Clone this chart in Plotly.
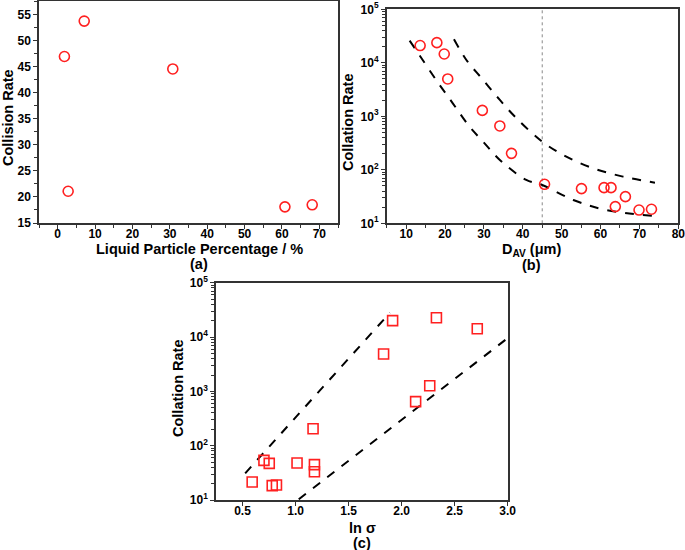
import plotly.graph_objects as go

# ---- Panel (a) data ----
liquid_pct = [1.8, 7.1, 2.8, 30.8, 60.8, 68.1]
collision_rate_a = [47.0, 53.8, 21.1, 44.6, 18.1, 18.5]

# ---- Panel (b) data ----
d_av = [13.6, 17.9, 19.8, 20.7, 29.6, 34.1, 37.1, 45.6, 55.1, 60.9, 62.7, 66.4, 63.8, 69.9, 73.1]
collation_rate_b = [21000, 23800, 14600, 4990, 1290, 660, 203, 53.6, 44.5, 46.4, 46.4, 31.5, 20.5, 17.7, 18.3]

# dashed envelope curves in (b)
lower_b_x = [10.9, 13.4, 17.7, 22.0, 26.3, 29.8, 34.1, 40.9, 45.0, 53.0, 61.5, 74.0]
lower_b_y = [26000, 14000, 4780, 1750, 641, 336, 153, 64.6, 52.0, 27.3, 17.7, 13.7]
upper_b_x = [22.3, 25.5, 29.8, 34.1, 38.4, 45.0, 51.2, 58.1, 65.8, 74.0]
upper_b_y = [27500, 11300, 4780, 2020, 918, 336, 176, 107, 74.5, 57.5]
ref_line_x = [45, 45]
ref_line_y = [10, 100000]

# ---- Panel (c) data ----
ln_sigma = [0.591, 0.702, 0.752, 0.78, 0.82, 1.014, 1.165, 1.178, 1.178, 1.83, 1.915, 2.132, 2.265, 2.328, 2.713]
collation_rate_c = [21.4, 53.7, 47.3, 18.4, 18.9, 48, 205, 44.7, 33.2, 4870, 20000, 646, 1270, 22700, 14200]
upper_c_x = [0.525, 1.89]
upper_c_y = [31, 28000]
lower_c_x = [1.03, 2.984]
lower_c_y = [10.3, 9060]

log_tickvals = [10, 100, 1000, 10000, 100000]
log_ticktext = ["10<sup>1</sup>", "10<sup>2</sup>", "10<sup>3</sup>", "10<sup>4</sup>", "10<sup>5</sup>"]

RED = "#ff2020"
FONT = "Liberation Sans"
W, H = 685, 550

fig = go.Figure()

circle = dict(symbol="circle-open", size=10, color=RED, line=dict(width=1.6, color=RED))
square = dict(symbol="square-open", size=10, color=RED, line=dict(width=1.6, color=RED))
dash_line = dict(color="black", width=2, dash="dash")

fig.add_trace(go.Scatter(x=liquid_pct, y=collision_rate_a, mode="markers", marker=circle,
                         xaxis="x", yaxis="y", showlegend=False))

fig.add_trace(go.Scatter(x=ref_line_x, y=ref_line_y, mode="lines",
                         line=dict(color="#888888", width=1, dash="dot"),
                         xaxis="x2", yaxis="y2", showlegend=False))
fig.add_trace(go.Scatter(x=lower_b_x, y=lower_b_y, mode="lines", line=dict(shape="spline", **dash_line),
                         xaxis="x2", yaxis="y2", showlegend=False))
fig.add_trace(go.Scatter(x=upper_b_x, y=upper_b_y, mode="lines", line=dict(shape="spline", **dash_line),
                         xaxis="x2", yaxis="y2", showlegend=False))
fig.add_trace(go.Scatter(x=d_av, y=collation_rate_b, mode="markers", marker=circle,
                         xaxis="x2", yaxis="y2", showlegend=False))

fig.add_trace(go.Scatter(x=upper_c_x, y=upper_c_y, mode="lines", line=dash_line,
                         xaxis="x3", yaxis="y3", showlegend=False))
fig.add_trace(go.Scatter(x=lower_c_x, y=lower_c_y, mode="lines", line=dash_line,
                         xaxis="x3", yaxis="y3", showlegend=False))
fig.add_trace(go.Scatter(x=ln_sigma, y=collation_rate_c, mode="markers", marker=square,
                         xaxis="x3", yaxis="y3", showlegend=False))

tickfont = dict(family=FONT, size=12, color="black", weight="bold")
axis_common = dict(showline=True, linecolor="#333333", linewidth=1.5, mirror=True,
                   ticks="outside", ticklen=4, tickwidth=1.2, tickcolor="#333333",
                   showgrid=False, zeroline=False, tickfont=tickfont, automargin=False,
                   ticklabeloverflow="allow")

def px_x(p):
    return p / W

def px_y(p):
    return 1 - p / H

XSTAND = -5

fig.update_layout(
    width=W, height=H,
    margin=dict(l=0, r=0, t=0, b=0, autoexpand=False),
    paper_bgcolor="white", plot_bgcolor="white",
    xaxis=dict(domain=[px_x(39), px_x(338)], range=[-5, 75], anchor="y",
               tickvals=[0, 10, 20, 30, 40, 50, 60, 70], ticklabelstandoff=XSTAND,
               minor=dict(ticks="outside", ticklen=3, dtick=5, tick0=0, tickcolor="#333333", showgrid=False),
               **axis_common),
    yaxis=dict(domain=[px_y(223), px_y(0.8)], range=[15, 57.7], anchor="x",
               tickvals=[15, 20, 25, 30, 35, 40, 45, 50, 55],
               minor=dict(ticks="outside", ticklen=3, dtick=2.5, tick0=15, tickcolor="#333333", showgrid=False),
               **axis_common),
    xaxis2=dict(domain=[px_x(386.7), px_x(678.3)], range=[5, 80], anchor="y2",
                tickvals=[10, 20, 30, 40, 50, 60, 70, 80], ticklabelstandoff=XSTAND,
                minor=dict(ticks="outside", ticklen=3, dtick=5, tick0=0, tickcolor="#333333", showgrid=False),
                **axis_common),
    yaxis2=dict(domain=[px_y(223.3), px_y(9.3)], type="log", range=[1, 5], anchor="x2",
                tickvals=log_tickvals, ticktext=log_ticktext,
                minor=dict(ticks="outside", ticklen=3, dtick="D1", tickcolor="#333333", showgrid=False),
                **axis_common),
    xaxis3=dict(domain=[px_x(216), px_x(507.7)], range=[0.25, 3.0], anchor="y3",
                tickvals=[0.5, 1.0, 1.5, 2.0, 2.5, 3.0], tickformat=".1f", ticklabelstandoff=XSTAND,
                **axis_common),
    yaxis3=dict(domain=[px_y(500), px_y(282.7)], type="log", range=[1, 5], anchor="x3",
                tickvals=log_tickvals, ticktext=log_ticktext,
                minor=dict(ticks="outside", ticklen=3, dtick="D1", tickcolor="#333333", showgrid=False),
                **axis_common),
)

title_font = dict(family=FONT, size=14.5, color="black")
ann = []
def add_text(text, x, y, angle=0):
    ann.append(dict(text="<b>" + text + "</b>", x=px_x(x), y=px_y(y), xref="paper", yref="paper",
                    showarrow=False, font=title_font, textangle=angle,
                    xanchor="center", yanchor="middle"))

add_text("Collision Rate", 8, 118, -90)
add_text("Liquid Particle Percentage / %", 199, 249)
add_text("(a)", 199, 264)
add_text("Collation Rate", 348, 122, -90)
add_text("D<sub>AV</sub> (μm)", 531, 250)
add_text("(b)", 531, 265)
add_text("Collation Rate", 178, 389, -90)
add_text("ln σ", 362, 528)
add_text("(c)", 362, 543)

fig.update_layout(annotations=ann)

fig.write_html("out.html", config={"displayModeBar": False},
               post_script="document.body.style.margin='0';document.body.style.overflow='hidden';")
